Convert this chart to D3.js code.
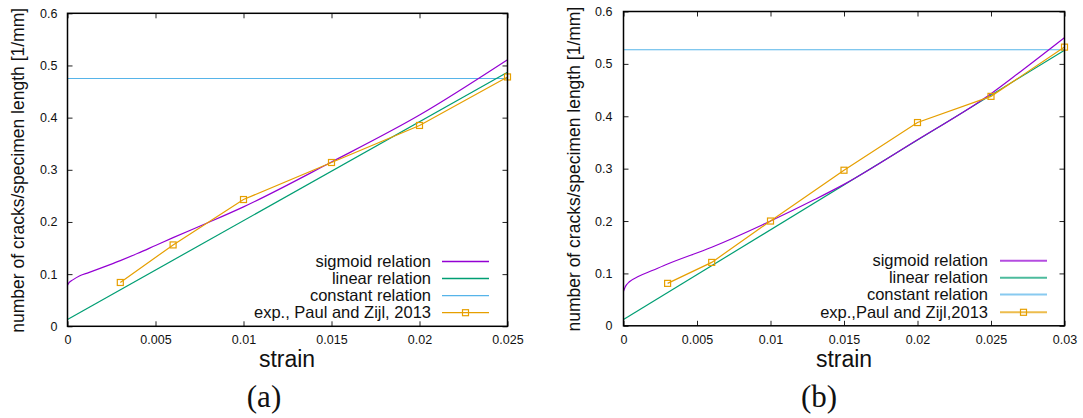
<!DOCTYPE html>
<html>
<head>
<meta charset="utf-8">
<script src="https://cdn.jsdelivr.net/npm/d3@7"></script>
<style>
  body { margin: 0; background: #fff; }
  svg { display: block; }
</style>
</head>
<body>
<div id="chart"></div>
<script>
// ---- data, panel (a) ----
const sigmoidStrainA = [0, 0.0001, 0.0003, 0.0007, 0.0012, 0.002, 0.003, 0.004, 0.005, 0.006, 0.008, 0.01, 0.015, 0.02, 0.025];
const sigmoidValueA  = [0.079, 0.084, 0.089, 0.097, 0.103, 0.113, 0.126, 0.140, 0.155, 0.170, 0.199, 0.229, 0.315, 0.405, 0.511];
const linearStrainA  = [0, 0.025];
const linearValueA   = [0.013, 0.487];
const constantValueA = 0.475;
const expStrainA     = [0.003, 0.006, 0.01, 0.015, 0.02, 0.025];
const expValueA      = [0.084, 0.156, 0.243, 0.314, 0.385, 0.478];
const xTicksA        = [0, 0.005, 0.01, 0.015, 0.02, 0.025];

// ---- data, panel (b) ----
const sigmoidStrainB = [0, 0.0001, 0.0002, 0.0004, 0.001, 0.002, 0.003, 0.006, 0.01, 0.013, 0.015, 0.02, 0.024, 0.025, 0.027, 0.03];
const sigmoidValueB  = [0.066, 0.073, 0.078, 0.084, 0.094, 0.106, 0.118, 0.150, 0.200, 0.241, 0.270, 0.355, 0.424, 0.443, 0.485, 0.550];
const linearStrainB  = [0, 0.03];
const linearValueB   = [0.012, 0.526];
const constantValueB = 0.527;
const expStrainB     = [0.003, 0.006, 0.01, 0.015, 0.02, 0.025, 0.03];
const expValueB      = [0.081, 0.121, 0.200, 0.297, 0.388, 0.438, 0.532];
const xTicksB        = [0, 0.005, 0.01, 0.015, 0.02, 0.025, 0.03];

const yTicks = [0, 0.1, 0.2, 0.3, 0.4, 0.5, 0.6];
const seriesNames = ["sigmoid relation", "linear relation", "constant relation"];
const colors = { sigmoid: "#9400d3", linear: "#009e73", constant: "#56b4e9", exp: "#e69f00" };

const width = 1083, height = 418;
const svg = d3.select("#chart").append("svg")
    .attr("width", width)
    .attr("height", height);

const zip = (xs, ys) => xs.map((x, i) => [x, ys[i]]);

function drawPanel(p) {
    const x = d3.scaleLinear().domain([0, p.xMax]).range([p.left, p.right]);
    const y = d3.scaleLinear().domain([0, 0.6]).range([p.bottom, p.top]);
    const g = svg.append("g");

    const line = d3.line().x(d => x(d[0])).y(d => y(d[1]));
    const smooth = d3.line().x(d => x(d[0])).y(d => y(d[1])).curve(d3.curveMonotoneX);

    // constant relation
    g.append("path")
        .datum([[0, p.constant], [p.xMax, p.constant]])
        .attr("d", line)
        .attr("fill", "none").attr("stroke", colors.constant).attr("stroke-width", 1.2);

    // linear relation
    g.append("path")
        .datum(p.linear)
        .attr("d", line)
        .attr("fill", "none").attr("stroke", colors.linear).attr("stroke-width", 1.2);

    // sigmoid relation
    g.append("path")
        .datum(p.sigmoid)
        .attr("d", smooth)
        .attr("fill", "none").attr("stroke", colors.sigmoid).attr("stroke-width", 1.2);

    // experiment
    g.append("path")
        .datum(p.exp)
        .attr("d", line)
        .attr("fill", "none").attr("stroke", colors.exp).attr("stroke-width", 1.2);
    g.selectAll(".mk")
        .data(p.exp)
        .enter().append("rect")
        .attr("x", d => x(d[0]) - 3).attr("y", d => y(d[1]) - 3)
        .attr("width", 6).attr("height", 6)
        .attr("fill", "none").attr("stroke", colors.exp).attr("stroke-width", 1.2);

    // axes, ticks inward on all four sides
    const axB = g.append("g").attr("transform", `translate(0,${p.bottom})`)
        .call(d3.axisBottom(x).tickValues(p.xTicks).tickFormat(d3.format("")).tickSize(-5).tickPadding(9));
    const axL = g.append("g").attr("transform", `translate(${p.left},0)`)
        .call(d3.axisLeft(y).tickValues(yTicks).tickFormat(d3.format("")).tickSize(-5).tickPadding(p.yPad));
    const axT = g.append("g").attr("transform", `translate(0,${p.top})`)
        .call(d3.axisTop(x).tickValues(p.xTicks).tickFormat("").tickSize(-5));
    const axR = g.append("g").attr("transform", `translate(${p.right},0)`)
        .call(d3.axisRight(y).tickValues(yTicks).tickFormat("").tickSize(-5));
    [axB, axL, axT, axR].forEach(a => {
        a.select(".domain").remove();
        a.selectAll("line").attr("stroke", "#222").attr("stroke-width", 1);
        a.selectAll("text")
            .attr("fill", "#111")
            .style("font-family", "'Liberation Sans', Arial, sans-serif")
            .style("font-size", "12.5px");
    });

    g.append("rect")
        .attr("x", p.left).attr("y", p.top)
        .attr("width", p.right - p.left).attr("height", p.bottom - p.top)
        .attr("fill", "none").attr("stroke", "#000").attr("stroke-width", 1.5);

    // axis titles
    g.append("text")
        .attr("transform", `translate(${p.yLabelX},${(p.top + p.bottom) / 2 + 0.5}) rotate(-90)`)
        .attr("text-anchor", "middle").attr("dy", "0.35em")
        .style("font-family", "'Liberation Sans', Arial, sans-serif")
        .style("font-size", "17.5px").attr("fill", "#111")
        .text("number of cracks/specimen length [1/mm]");
    g.append("text")
        .attr("x", p.strainX).attr("y", 367)
        .attr("text-anchor", "middle")
        .style("font-family", "'Liberation Sans', Arial, sans-serif")
        .style("font-size", "23px").attr("fill", "#111")
        .text("strain");
    g.append("text")
        .attr("x", p.capX).attr("y", 407)
        .attr("text-anchor", "middle")
        .style("font-family", "'Liberation Serif', 'DejaVu Serif', serif")
        .style("font-size", "31px").attr("fill", "#111")
        .text(p.caption);

    // legend
    const entries = [
        { name: seriesNames[0], color: colors.sigmoid, marker: false },
        { name: seriesNames[1], color: colors.linear, marker: false },
        { name: seriesNames[2], color: colors.constant, marker: false },
        { name: p.expName, color: colors.exp, marker: true }
    ];
    const lg = g.append("g");
    entries.forEach((e, i) => {
        const ly = p.legendY[i];
        lg.append("text")
            .attr("x", p.legendTextX).attr("y", ly).attr("dy", "0.35em")
            .attr("text-anchor", "end")
            .style("font-family", "'Liberation Sans', Arial, sans-serif")
            .style("font-size", "16.5px").attr("fill", "#111")
            .text(e.name);
        lg.append("line")
            .attr("x1", p.legendLine[0]).attr("x2", p.legendLine[1])
            .attr("y1", ly).attr("y2", ly)
            .attr("stroke", e.color).attr("stroke-width", p.legendStroke)
            .attr("stroke-opacity", p.legendOpacity);
        if (e.marker) {
            const mx = (p.legendLine[0] + p.legendLine[1]) / 2;
            lg.append("rect")
                .attr("x", mx - 3).attr("y", ly - 3).attr("width", 6).attr("height", 6)
                .attr("fill", "none").attr("stroke", e.color).attr("stroke-width", 1.2);
        }
    });
}

drawPanel({
    xMax: 0.025, xTicks: xTicksA,
    left: 67.5, right: 507.5, top: 13.3, bottom: 326.3,
    yPad: 10, yLabelX: 17.5, strainX: 287, capX: 264, caption: "(a)",
    sigmoid: zip(sigmoidStrainA, sigmoidValueA),
    linear: zip(linearStrainA, linearValueA),
    constant: constantValueA,
    exp: zip(expStrainA, expValueA),
    expName: "exp., Paul and Zijl, 2013",
    legendTextX: 431, legendLine: [442, 489], legendY: [261.5, 278.5, 295.7, 312.7],
    legendStroke: 1.3, legendOpacity: 1
});

drawPanel({
    xMax: 0.03, xTicks: xTicksB,
    left: 623.5, right: 1064.5, top: 11.5, bottom: 325.8,
    yPad: 11, yLabelX: 573.5, strainX: 844, capX: 819, caption: "(b)",
    sigmoid: zip(sigmoidStrainB, sigmoidValueB),
    linear: zip(linearStrainB, linearValueB),
    constant: constantValueB,
    exp: zip(expStrainB, expValueB),
    expName: "exp.,Paul and Zijl,2013",
    legendTextX: 988, legendLine: [1000, 1047], legendY: [260.7, 277.7, 294.5, 312.3],
    legendStroke: 2, legendOpacity: 0.7
});
</script>
</body>
</html>
